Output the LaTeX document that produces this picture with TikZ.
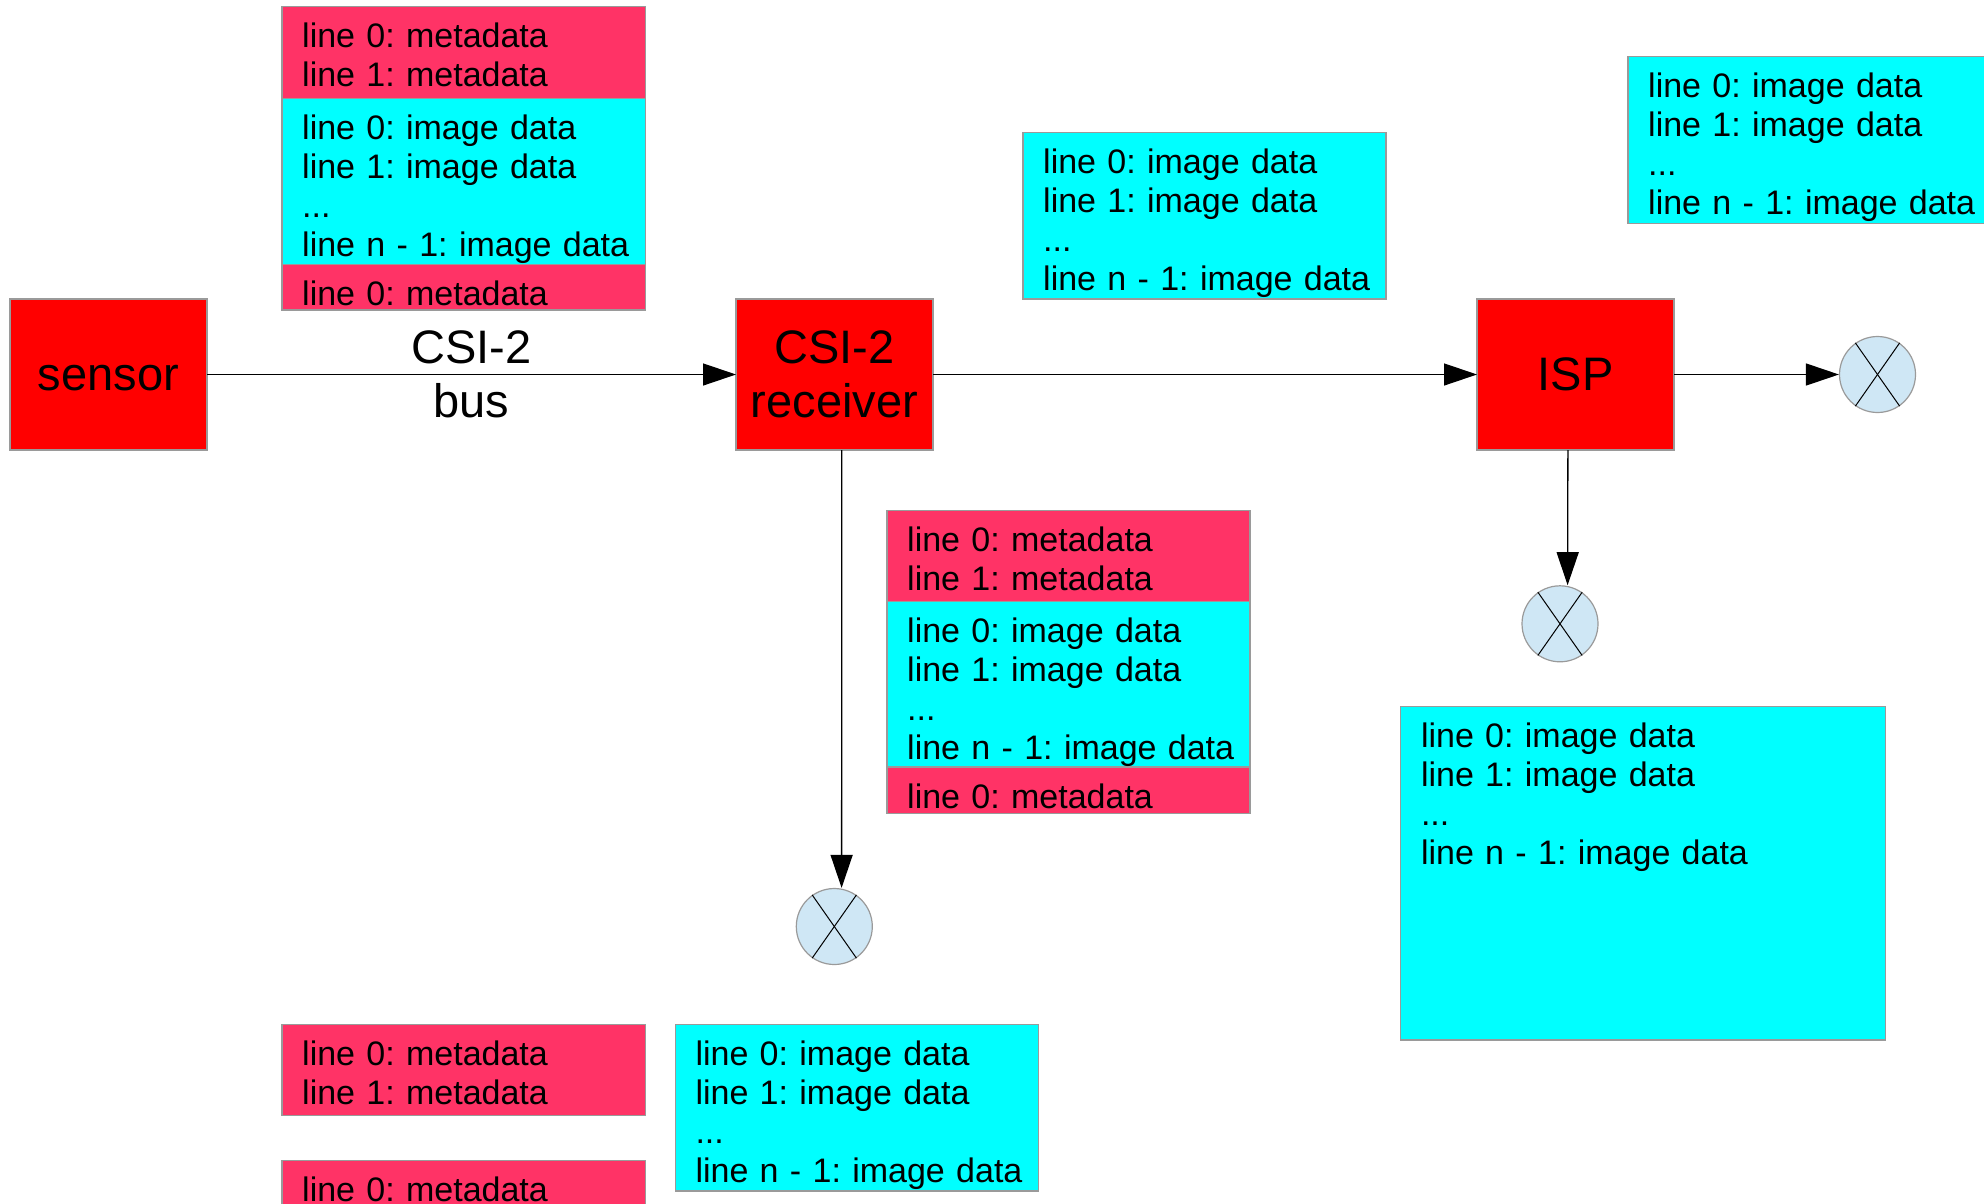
\documentclass[tikz,border=0pt]{standalone}
\usepackage{fontspec}
\setmainfont{Liberation Sans}
\usetikzlibrary{arrows.meta}
\definecolor{metared}{HTML}{FF3366}
\definecolor{imgcyan}{HTML}{00FFFF}
\definecolor{blockred}{HTML}{FF0000}
\definecolor{sinkfill}{HTML}{CFE7F5}
\definecolor{edgegray}{HTML}{9A9A9A}
\begin{document}
\frenchspacing
\begin{tikzpicture}[x=1pt,y=-1pt,
  panel/.style={draw=edgegray, line width=1.2pt, anchor=north west,
    inner sep=0pt, outer sep=0pt},
  meta/.style={panel, fill=metared},
  img/.style={panel, fill=imgcyan},
  block/.style={panel, fill=blockred, minimum width=197pt, minimum height=151pt,
    font=\fontsize{47}{54}\selectfont, text width=190pt, align=center},
  oneline/.style={text height=42pt, text depth=11pt},
  twoline/.style={text height=42.5pt, text depth=65.5pt},
  rows/.style={anchor=base west, inner sep=0pt, font=\fontsize{34}{39}\selectfont\frenchspacing,
    text width=340pt, align=left},
  sink/.style={circle, draw=edgegray, fill=sinkfill, line width=1.2pt,
    minimum size=76pt, inner sep=0pt},
  flow/.style={draw=black, line width=1.3pt, -{Triangle[length=33pt,width=22pt]}},
  cross/.style={draw=black, line width=1pt}
]
\useasboundingbox (0,0) rectangle (1984,1203);
\clip (0,0) rectangle (1984,1203);

% main blocks
\node[block, oneline] (sensor) at (10,299) {sensor};
\node[block, twoline] (receiver) at (736,299) {CSI-2\\receiver};
\node[block, oneline] (isp) at (1477,299) {ISP};

% top stack (sensor output)
\node[meta, minimum width=363.5pt, minimum height=91.6pt] (tm1) at (282,6.7) {};
\node[img, minimum width=363.5pt, minimum height=166pt] (ti) at (282,98.3) {};
\node[meta, minimum width=363.5pt, minimum height=45.7pt] (tm2) at (282,264.3) {};
\node[rows] (tm1t) at ([xshift=20pt,yshift=-41pt]tm1.north west) {line 0: metadata\\line 1: metadata};
\node[rows] (tit) at ([xshift=20pt,yshift=-41pt]ti.north west) {line 0: image data\\line 1: image data\\...\\line n - 1: image data};
\node[rows] (tm2t) at ([xshift=20pt,yshift=-41pt]tm2.north west) {line 0: metadata};

% receiver output image
\node[img, minimum width=363pt, minimum height=166.7pt] (ri) at (1023,132.3) {};
\node[rows] (rit) at ([xshift=20pt,yshift=-41pt]ri.north west) {line 0: image data\\line 1: image data\\...\\line n - 1: image data};

% ISP output image (top right)
\node[img, minimum width=363pt, minimum height=166.6pt] (oi) at (1628,56.7) {};
\node[rows] (oit) at ([xshift=20pt,yshift=-41pt]oi.north west) {line 0: image data\\line 1: image data\\...\\line n - 1: image data};

% middle stack
\node[meta, minimum width=363pt, minimum height=91.4pt] (mm1) at (887,510.3) {};
\node[img, minimum width=363pt, minimum height=165.3pt] (mi) at (887,601.7) {};
\node[meta, minimum width=363pt, minimum height=46.3pt] (mm2) at (887,767) {};
\node[rows] (mm1t) at ([xshift=20pt,yshift=-41pt]mm1.north west) {line 0: metadata\\line 1: metadata};
\node[rows] (mit) at ([xshift=20pt,yshift=-41pt]mi.north west) {line 0: image data\\line 1: image data\\...\\line n - 1: image data};
\node[rows] (mm2t) at ([xshift=20pt,yshift=-41pt]mm2.north west) {line 0: metadata};

% big cyan (ISP down)
\node[img, minimum width=484.6pt, minimum height=333.3pt] (bi) at (1400.8,706.7) {};
\node[rows] (bit) at ([xshift=20pt,yshift=-41pt]bi.north west) {line 0: image data\\line 1: image data\\...\\line n - 1: image data};

% bottom boxes
\node[meta, minimum width=363.5pt, minimum height=91.4pt] (bm1) at (282,1024.3) {};
\node[meta, minimum width=363.5pt, minimum height=91.4pt] (bm2) at (282,1160.7) {};
\node[img, minimum width=363.4pt, minimum height=166.7pt] (bci) at (675.3,1024.3) {};
\node[rows] (bm1t) at ([xshift=20pt,yshift=-41pt]bm1.north west) {line 0: metadata\\line 1: metadata};
\node[rows] (bm2t) at ([xshift=20pt,yshift=-41pt]bm2.north west) {line 0: metadata};
\node[rows] (bcit) at ([xshift=20pt,yshift=-41pt]bci.north west) {line 0: image data\\line 1: image data\\...\\line n - 1: image data};

% sinks
\node[sink] (s1) at (834.3,926.5) {};
\node[sink] (s2) at (1560,623.8) {};
\node[sink] (s3) at (1877.5,374.5) {};
\foreach \s in {s1,s2,s3}{
  \draw[cross] (\s.125) -- (\s.-55);
  \draw[cross] (\s.55) -- (\s.-125);
}

% connectors
\draw[flow] (sensor) -- node[pos=0.5, anchor=base, yshift=11.3pt, inner sep=0pt,
  font=\fontsize{47}{54}\selectfont, text width=150pt, align=center] (buslabel) {CSI-2\\bus} (receiver);
\draw[flow] (receiver) -- (isp);
\draw[flow] (isp) -- (s3);
\draw[flow] ([xshift=7.3pt]receiver.south) -- ([xshift=7.3pt]s1.north);
\draw[flow] ([xshift=-7.6pt]isp.south) -- ([xshift=7.6pt]s2.north);
\end{tikzpicture}
\end{document}
